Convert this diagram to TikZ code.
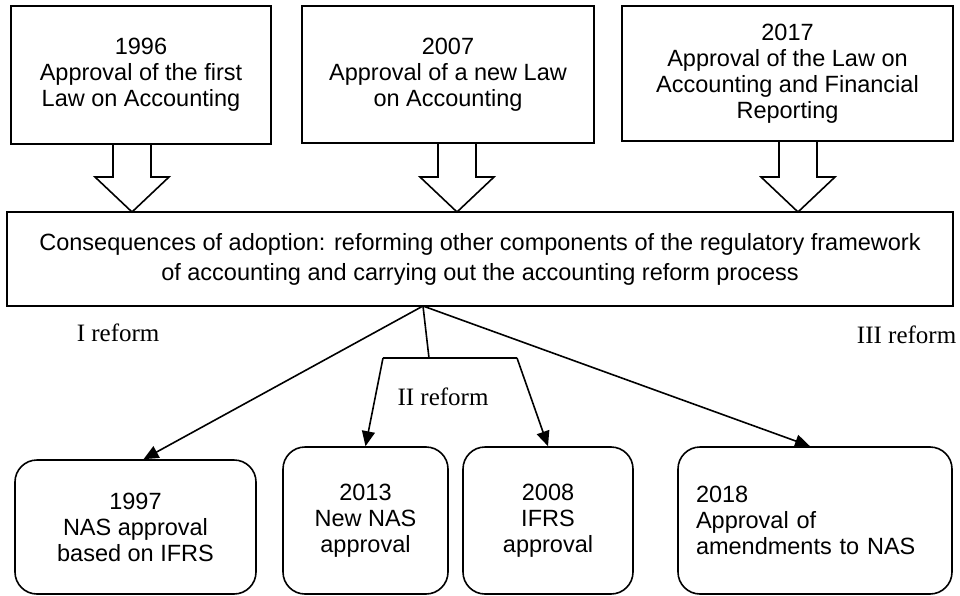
\documentclass[tikz,border=0pt]{standalone}
\usepackage{fontspec}
\setmainfont{Liberation Sans}
\newfontfamily\reformfont{Liberation Serif}
\usetikzlibrary{arrows.meta,calc}

\begin{document}
\begin{tikzpicture}[x=1pt, y=-1pt, line width=1.6pt,
  > = {Triangle[length=15pt, width=13pt]},
  every node/.style={font=\fontsize{23.5}{26}\selectfont},
  lawbox/.style={draw, rectangle, align=center, inner sep=0pt},
  stepbox/.style={draw, rounded corners=22pt, align=center, inner sep=0pt},
  reform/.style={inner sep=0pt, font=\reformfont\fontsize{25}{28}\selectfont},
  blockarrow/.style={line join=miter}]
\useasboundingbox (0,0) rectangle (960,596);

\node (law96) [lawbox, minimum width=260pt, minimum height=138pt] at (141,75) {1996\\Approval of the first\\Law on Accounting};
\node (law07) [lawbox, minimum width=292pt, minimum height=137pt] at (448,74.5) {2007\\Approval of a new Law\\on Accounting};
\node (law17) [lawbox, minimum width=331pt, minimum height=135pt] at (787.5,73.5) {2017\\Approval of the Law on\\Accounting and Financial\\Reporting};

\node (cons) [lawbox, minimum width=946pt, minimum height=94pt, font=\fontsize{23.5}{30}\selectfont] at (480,259) {Consequences of adoption: reforming other components of the regulatory framework\\of accounting and carrying out the accounting reform process};

\node (nas97) [stepbox, minimum width=241pt, minimum height=134pt] at (135.5,527) {1997\\NAS approval\\based on IFRS};
\node (nas13) [stepbox, minimum width=165pt, minimum height=147pt] at (365.5,520.5) {2013\\New NAS\\approval};
\node (ifrs08) [stepbox, minimum width=170pt, minimum height=147pt] at (548,520.5) {2008\\IFRS\\approval};
\node (nas18) [stepbox, align=left, text width=238pt, inner xsep=18pt, minimum height=147pt] at (815,520.5) {2018\\Approval of\\amendments to NAS};

\node (ref1) [reform, anchor=west] at (76,333) {I reform};
\node (ref2) [reform] at (443,397) {II reform};
\node (ref3) [reform, anchor=east] at (957,335) {III reform};

% big arrows from the laws
\coordinate (tip96) at (132,212);
\coordinate (tip07) at (457,212);
\coordinate (tip17) at (798,212);
\foreach \src/\tip in {law96/tip96, law07/tip07, law17/tip17}
  \draw[blockarrow] ($(\src.south -| \tip)+(-19,0)$) -- ($(\tip)+(-19,-35)$) -- ($(\tip)+(-37,-35)$) -- (\tip)
    -- ($(\tip)+(37,-35)$) -- ($(\tip)+(19,-35)$) -- ($(\src.south -| \tip)+(19,0)$);

% reforms
\coordinate (fork) at (423,306);
\coordinate (bar) at (429,358);
\coordinate (barl) at (383,358);
\coordinate (barr) at (517,358);
\draw[->] (fork) -- ($(nas97.north)+(8,0)$);
\draw[->] (fork) -- ($(nas18.north)+(-5,0)$);
\draw (fork) -- (bar);
\draw (barl) -- (barr);
\draw[->] (barl) -- (nas13.north);
\draw[->] (barr) -- (ifrs08.north);
\end{tikzpicture}
\end{document}
